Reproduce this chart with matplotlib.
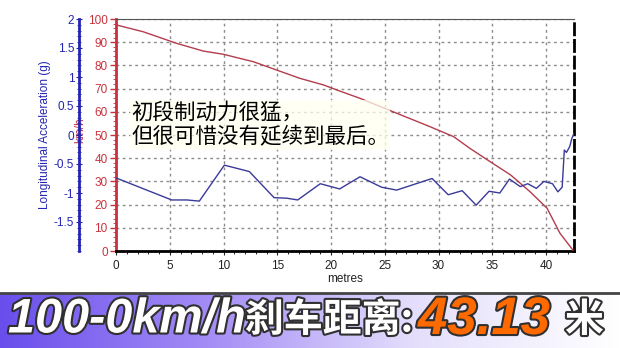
"""100-0 km/h braking test: speed and longitudinal acceleration vs distance"""
import numpy as np
import matplotlib.pyplot as plt
import matplotlib.patheffects as pe
from matplotlib.ticker import MultipleLocator, FixedLocator
from matplotlib.colors import LinearSegmentedColormap

# speed trace (km/h) vs distance (m)
speed_x = [0.0, 0.07, 2.53, 5.64, 8.11, 9.98, 12.77, 14.94, 17.12, 19.29, 20.84,
           22.7, 26.1, 29.2, 31.4, 32.9, 34.8, 36.7, 38.5, 40.1, 41.3, 42.5]
speed_v = [97.6, 97.4, 94.5, 89.5, 86.2, 84.8, 81.6, 78.0, 74.4, 71.6, 68.9,
           65.8, 59.4, 53.6, 49.3, 44.3, 38.5, 32.8, 25.6, 18.4, 7.6, 0.4]

# longitudinal acceleration (g) vs distance (m)
acc_x = [0.0, 5.18, 6.6, 7.75, 10.08, 12.4, 14.7, 15.9, 16.9, 19.0, 20.8, 22.7,
         24.7, 26.1, 29.4, 30.9, 32.2, 33.5, 34.7, 35.7, 36.6, 37.6, 38.3, 39.1,
         39.8, 40.6, 41.1, 41.5, 41.7, 41.9, 42.2, 42.4, 42.6]
acc_g = [-0.74, -1.12, -1.12, -1.14, -0.52, -0.63, -1.08, -1.09, -1.12, -0.84,
         -0.93, -0.72, -0.90, -0.95, -0.75, -1.03, -0.96, -1.21, -0.97, -1.00,
         -0.76, -0.89, -0.84, -0.92, -0.80, -0.84, -0.98, -0.90, -0.26, -0.30,
         -0.20, -0.06, 0.03]

acc_ticks = [-1.5, -1, -0.5, 0, 0.5, 1, 1.5, 2]
acc_labels = ["-1.5", "-1", "-0.5", "0", "0.5", "1", "1.5", "2"]

cjk = ["Noto Sans CJK SC", "DejaVu Sans"]
plt.rcParams["font.family"] = ["Liberation Sans", "DejaVu Sans"]

RED = "#c8323c"
BLUE = "#2424b4"

W, H = 620, 348
fig = plt.figure(figsize=(W / 100, H / 100), dpi=100)
ax = fig.add_axes([116 / W, 1 - 251 / H, (574 - 116) / W, (251 - 19) / H])

ax.plot(speed_x, speed_v, color="#b43c4c", lw=1, zorder=3)
ax.set_xlim(0, 42.6)
ax.set_ylim(0, 100)
ax.xaxis.set_major_locator(MultipleLocator(5))
ax.xaxis.set_minor_locator(MultipleLocator(1))
ax.yaxis.set_major_locator(MultipleLocator(10))
ax.yaxis.set_minor_locator(MultipleLocator(2))
ax.tick_params(axis="x", labelsize=8.5, colors="#222222", length=3)
ax.tick_params(axis="x", which="minor", length=2)
ax.tick_params(axis="y", labelsize=8.5, colors=RED, length=4, width=1, pad=2)
ax.tick_params(axis="y", which="minor", length=2, color=RED)
ax.spines["left"].set_color(RED)
ax.spines["left"].set_linewidth(2)
ax.spines["bottom"].set_color("black")
ax.spines["bottom"].set_linewidth(2)
ax.spines["top"].set_color("#555555")
ax.spines["right"].set_color("black")
ax.spines["right"].set_linewidth(2)
ax.spines["right"].set_linestyle((0, (4, 2)))
ax.set_xlabel("metres", fontsize=8.5, color="#222222", labelpad=1)
ax.set_ylabel("km/h", fontsize=8.5, color=RED)
ax.yaxis.set_label_coords(-0.066, 0.52)

ax2 = ax.twinx()
ax2.plot(acc_x, acc_g, color="#3a3a98", lw=1, zorder=3)
ax2.set_ylim(-2, 2)
ax2.yaxis.tick_left()
ax2.yaxis.set_label_position("left")
ax2.spines["left"].set_position(("outward", 27))
ax2.spines["left"].set_visible(True)
ax2.spines["left"].set_color(BLUE)
ax2.spines["left"].set_linewidth(2)
ax2.spines["right"].set_visible(False)
ax2.spines["top"].set_visible(False)
ax2.spines["bottom"].set_visible(False)
ax2.yaxis.set_major_locator(FixedLocator(acc_ticks))
ax2.set_yticklabels(acc_labels)
ax2.yaxis.set_minor_locator(MultipleLocator(0.1))
ax2.tick_params(axis="y", labelsize=8.5, colors=BLUE, length=4, direction="inout", pad=1)
ax2.tick_params(axis="y", which="minor", length=3, color=BLUE, direction="inout")
ax2.set_ylabel("Longitudinal Acceleration (g)", fontsize=8.5, color=BLUE)
ax2.yaxis.set_label_coords(-0.142, 0.5)

# dotted grid on the speed axes
ax.xaxis.grid(True, which="major", color="#8c8c8c", linestyle=(0, (2, 2.5)), linewidth=1)
ax.yaxis.grid(True, which="major", color="#8c8c8c", linestyle=(0, (2, 2.5)), linewidth=1)
ax.set_axisbelow(True)

ax.text(0.033, 0.543, "初段制动力很猛，\n但很可惜没有延续到最后。", transform=ax.transAxes,
        family=cjk, fontsize=15.5, style="italic", color="black", linespacing=1.15,
        va="center", ha="left", zorder=5,
        bbox=dict(facecolor="#fffff0", edgecolor="none", alpha=0.75, pad=1))

# bottom banner with gradient
bax = fig.add_axes([0, 0, 1, 55 / H])
grad = np.linspace(0, 1, 256).reshape(1, -1)
cmap = LinearSegmentedColormap.from_list("banner", ["#6a4eec", "#a38cf5", "#e4defc", "#ffffff"])
bax.imshow(grad, aspect="auto", cmap=cmap, extent=[0, 1, 0, 1])
bax.set_xlim(0, 1)
bax.set_ylim(0, 1)
bax.axis("off")
fig.add_artist(plt.Line2D([0, 1], [55 / H, 55 / H], color="#444444", lw=2))

stroke = [pe.withStroke(linewidth=3, foreground="#303030")]
fig.text(8 / W, 28 / H, "100-0km/h", family=["Liberation Sans"], fontsize=35,
         weight="bold", style="italic", color="white", va="center", ha="left",
         path_effects=stroke)
fig.text(245 / W, 28 / H, "刹车距离:", family=cjk, fontsize=28, weight="bold",
         color="white", va="center", ha="left", path_effects=stroke)
fig.text(418 / W, 28 / H, "43.13", family=["Liberation Sans"], fontsize=38,
         weight="bold", style="italic", color="#ff6a00", va="center", ha="left",
         path_effects=stroke)
fig.text(565 / W, 28 / H, "米", family=cjk, fontsize=28, weight="bold",
         color="white", va="center", ha="left", path_effects=stroke)

plt.savefig("out.png", dpi=100)
